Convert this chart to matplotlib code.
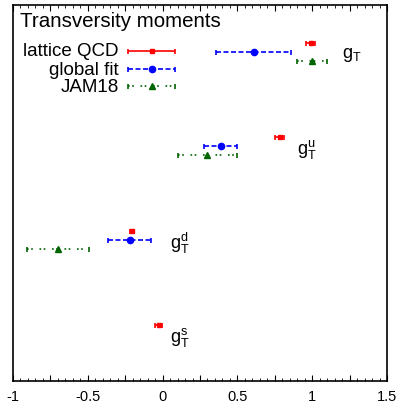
import numpy as np
import matplotlib.pyplot as plt
from matplotlib.ticker import MultipleLocator

plt.rcParams['font.family'] = ['Liberation Sans', 'DejaVu Sans']
plt.rcParams['mathtext.fontset'] = 'custom'
plt.rcParams['mathtext.rm'] = 'Liberation Sans'
plt.rcParams['mathtext.it'] = 'Liberation Sans'
plt.rcParams['mathtext.default'] = 'regular'

# tensor charges, rows from top: g_T, g_T^u, g_T^d, g_T^s
labels = ['$g_T$', '$g_T^u$', '$g_T^d$', '$g_T^s$']
lat_val = [0.989, 0.784, -0.204, -0.027]
lat_err = [0.033, 0.030, 0.015, 0.022]
fit_val = [0.61, 0.39, -0.22]
fit_err = [0.25, 0.11, 0.145]
jam_val = [1.00, 0.30, -0.70]
jam_err = [0.10, 0.20, 0.205]

series = ['lattice QCD', 'global fit', 'JAM18']
rows = np.array([4, 3, 2, 1])
label_x = [1.20, 0.90, 0.05, 0.05]

styles = [
    dict(color='red', fmt='s', ms=3.5, ls='-'),
    dict(color='blue', fmt='o', ms=4.5, ls=(0, (3, 1.5))),
    dict(color='darkgreen', fmt='^', ms=5, ls=(0, (1, 1.5, 1, 4))),
]

fig = plt.figure(figsize=(4.0, 4.06), dpi=100)
ax = fig.add_axes([13/400, 1 - 382/406, 374/400, 376/406])

def draw(x, y, err, st):
    eb = ax.errorbar(x, y, xerr=err, fmt=st['fmt'], color=st['color'], ms=st['ms'],
                     elinewidth=1.2, capsize=1.8, capthick=1.2, clip_on=False)
    eb[2][0].set_linestyle(st['ls'])

draw(lat_val, rows, lat_err, styles[0])
draw(fit_val, rows[:3] - 0.095, fit_err, styles[1])
draw(jam_val, rows[:3] - 0.19, jam_err, styles[2])

for lab, x, y in zip(labels, label_x, rows):
    ax.text(x, y - 0.12, lab, fontsize=13, ha='left', va='center')

# key in the top left corner
ax.text(-0.953, 4.234, 'Transversity moments', fontsize=14.8, ha='left', va='center')
key_y = [3.915, 3.723, 3.542]
for name, ky, st in zip(series, key_y, styles):
    ax.text(-0.295, ky, name, fontsize=13.5, ha='right', va='center')
    draw([-0.074], [ky], [0.157], st)

ax.set_xlim(-1, 1.5)
ax.set_ylim(0.404, 4.404)
ax.set_yticks([])
ax.xaxis.set_minor_locator(MultipleLocator(0.05))
ax.set_xticks(np.arange(-1, 1.51, 0.25))
ax.set_xticklabels(['-1', '', '-0.5', '', '0', '', '0.5', '', '1', '', '1.5'])
ax.tick_params(axis='x', which='both', direction='in', top=True, labelsize=10.5, pad=6)
ax.tick_params(axis='x', which='major', length=4)
ax.tick_params(axis='x', which='minor', length=2)
for s in ax.spines.values():
    s.set_linewidth(1.2)

fig.savefig('out.png', dpi=100)
